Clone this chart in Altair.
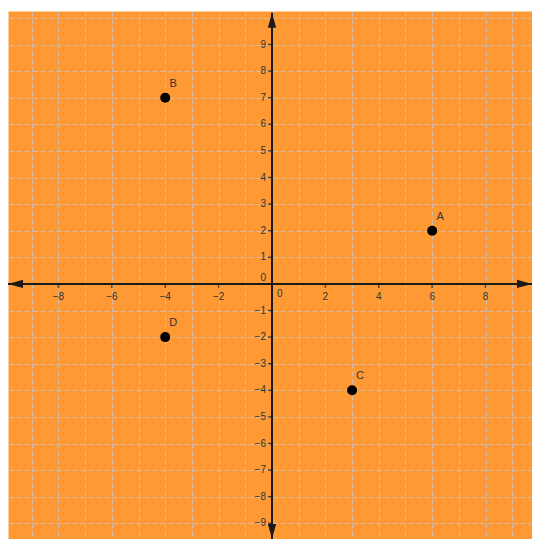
import altair as alt
import pandas as pd

# ---- data ----
point_names = ["A", "B", "C", "D"]
point_x = [6, -4, 3, -4]
point_y = [2, 7, -4, -2]

x_tick_values = [-8, -6, -4, -2, 2, 4, 6, 8]
y_tick_values = [-9, -8, -7, -6, -5, -4, -3, -2, -1, 1, 2, 3, 4, 5, 6, 7, 8, 9]
grid_values = list(range(-10, 11))

X_DOMAIN = [-9.89, 9.74]
Y_DOMAIN = [-9.59, 10.26]
Y_ARROW_TOP = 10.19


def fmt(v):
    return ("\u2212" + str(-v)) if v < 0 else str(v)


points_df = pd.DataFrame({"name": point_names, "x": point_x, "y": point_y})
xt_df = pd.DataFrame({"x": x_tick_values, "y": [0] * len(x_tick_values),
                      "label": [fmt(v) for v in x_tick_values]})
yt_df = pd.DataFrame({"x": [0] * len(y_tick_values), "y": y_tick_values,
                      "label": [fmt(v) for v in y_tick_values]})
zero_df = pd.DataFrame({"x": [0], "y": [0], "label": ["0"]})

xs = alt.Scale(domain=X_DOMAIN, nice=False, zero=False)
ys = alt.Scale(domain=Y_DOMAIN, nice=False, zero=False)

grid_props = dict(grid=True, gridColor="#c4c4c4", gridOpacity=0.85, gridDash=[5, 3],
                  gridWidth=1, labels=False, ticks=False, domain=False, title=None)
xaxis = alt.Axis(values=grid_values, **grid_props)
yaxis = alt.Axis(values=grid_values, **grid_props)


def X(field):
    return alt.X(field, type="quantitative", scale=xs, axis=xaxis)


def Y(field):
    return alt.Y(field, type="quantitative", scale=ys, axis=yaxis)


AX_COLOR = "#1a1a1a"
FONT = "Liberation Sans"

# axis lines
xline_df = pd.DataFrame({"x1": [X_DOMAIN[0]], "x2": [X_DOMAIN[1]], "y": [0]})
yline_df = pd.DataFrame({"x": [0], "y1": [Y_DOMAIN[0]], "y2": [Y_ARROW_TOP]})

x_line = alt.Chart(xline_df).mark_rule(color=AX_COLOR, strokeWidth=2).encode(
    x=X("x1"), x2="x2", y=Y("y"))
y_line = alt.Chart(yline_df).mark_rule(color=AX_COLOR, strokeWidth=2).encode(
    x=X("x"), y=Y("y1"), y2="y2")

# arrow heads (tip at the point position)
arrow_specs = [
    (X_DOMAIN[1], 0, "M0,0 L-2,-0.55 L-2,0.55 Z"),
    (X_DOMAIN[0], 0, "M0,0 L2,-0.55 L2,0.55 Z"),
    (0, Y_ARROW_TOP, "M0,0 L-0.55,2 L0.55,2 Z"),
    (0, Y_DOMAIN[0], "M0,0 L-0.55,-2 L0.55,-2 Z"),
]
arrows = []
for ax_, ay_, path in arrow_specs:
    arrows.append(
        alt.Chart(pd.DataFrame({"x": [ax_], "y": [ay_]}))
        .mark_point(shape=path, filled=True, color=AX_COLOR, opacity=1, size=225)
        .encode(x=X("x"), y=Y("y"))
    )

# small ticks (just below the x axis, just left of the y axis)
x_ticks = alt.Chart(xt_df).mark_tick(orient="vertical", size=4, thickness=1.5,
                                     yOffset=2, color=AX_COLOR).encode(x=X("x"), y=Y("y"))
y_ticks = alt.Chart(yt_df).mark_tick(orient="horizontal", size=4, thickness=1.5,
                                     xOffset=-2, color=AX_COLOR).encode(x=X("x"), y=Y("y"))

# tick labels
x_labels = alt.Chart(xt_df).mark_text(font=FONT, fontSize=10, color="#333333",
                                      align="center", baseline="middle", dy=13).encode(
    x=X("x"), y=Y("y"), text="label:N")
y_labels = alt.Chart(yt_df).mark_text(font=FONT, fontSize=10, color="#333333",
                                      align="right", baseline="middle", dx=-6).encode(
    x=X("x"), y=Y("y"), text="label:N")
zero_y = alt.Chart(zero_df).mark_text(font=FONT, fontSize=10, color="#333333",
                                      align="right", baseline="middle", dx=-6, dy=-6).encode(
    x=X("x"), y=Y("y"), text="label:N")
zero_x = alt.Chart(zero_df).mark_text(font=FONT, fontSize=10, color="#333333",
                                      align="left", baseline="middle", dx=5, dy=10).encode(
    x=X("x"), y=Y("y"), text="label:N")

# points and their names
pts = alt.Chart(points_df).mark_circle(color="#000000", opacity=1, size=100).encode(
    x=X("x"), y=Y("y"))
pt_labels = alt.Chart(points_df).mark_text(font=FONT, fontSize=11, color="#333333",
                                           align="center", baseline="middle",
                                           dx=8, dy=-14).encode(
    x=X("x"), y=Y("y"), text="name:N")

chart = alt.layer(
    x_line, y_line, *arrows, x_ticks, y_ticks, x_labels, y_labels, zero_y, zero_x,
    pts, pt_labels
).properties(
    width=524, height=528,
    autosize=alt.AutoSizeParams(type="none"),
    padding={"left": 0, "top": 3, "right": 0, "bottom": 0},
    background="#ffffff",
).configure_view(
    fill="#FF9933", stroke="transparent"
)

chart.save("out.html", embed_options={"renderer": "svg", "actions": False})
